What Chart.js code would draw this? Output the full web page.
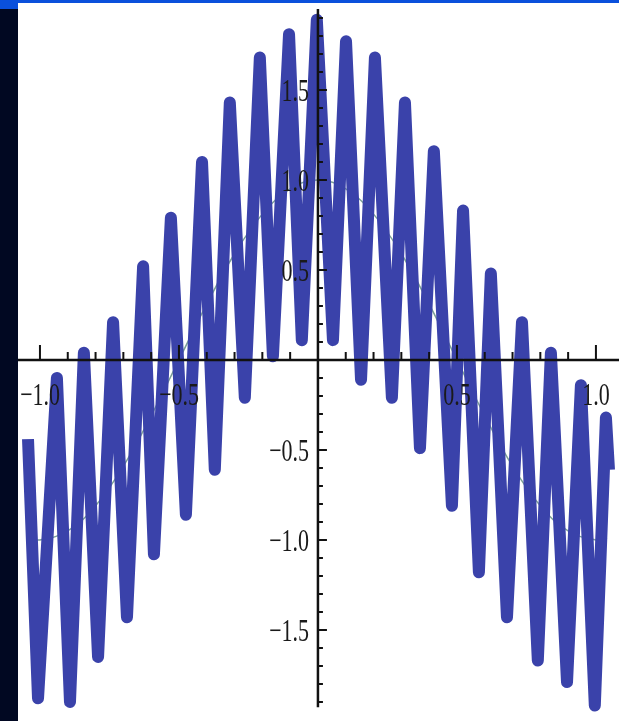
<!DOCTYPE html>
<html>
<head>
<meta charset="utf-8">
<script src="https://cdn.jsdelivr.net/npm/chart.js@4.4.1/dist/chart.umd.min.js"></script>
<style>
    html, body { margin: 0; padding: 0; background: #fff; }
    body { width: 619px; height: 721px; position: relative; overflow: hidden; }
    #side { position: absolute; left: 0; top: 0; width: 18px; height: 721px; background: #010822; }
    #corner { position: absolute; left: 0; top: 0; width: 18px; height: 9px; background: #0a50dc; }
    #topbar { position: absolute; left: 0; top: 0; width: 619px; height: 3px; background: #0a50dc; }
    #wrap { position: absolute; left: 18px; top: 3px; width: 601px; height: 718px; }
</style>
</head>
<body>
<div id="side"></div>
<div id="topbar"></div>
<div id="corner"></div>
<div id="wrap"><canvas id="plot"></canvas></div>
<script>
// Пики и впадины толстой синей кривой
const waveX = [-1.043, -1.007, -0.939, -0.892, -0.842, -0.791, -0.737, -0.687, -0.629, -0.590,
    -0.529, -0.475, -0.417, -0.371, -0.317, -0.263, -0.209, -0.162, -0.104, -0.058,
    -0.004, 0.054, 0.101, 0.155, 0.205, 0.266, 0.313, 0.367, 0.417, 0.482,
    0.522, 0.579, 0.622, 0.680, 0.734, 0.791, 0.838, 0.896, 0.946, 0.996, 1.036, 1.047];
const waveY = [-0.44, -1.88, -0.10, -1.90, 0.04, -1.65, 0.21, -1.43, 0.52, -1.08,
    0.79, -0.86, 1.10, -0.61, 1.43, -0.21, 1.68, 0.02, 1.81, 0.11,
    1.89, 0.11, 1.77, -0.11, 1.68, -0.21, 1.43, -0.49, 1.16, -0.81,
    0.83, -1.18, 0.48, -1.43, 0.21, -1.67, 0.04, -1.79, -0.14, -1.92, -0.32, -0.61];

// Тонкая гладкая кривая
const baseX = [-1.04, -1.0, -0.9, -0.8, -0.7, -0.6, -0.5, -0.4, -0.3, -0.2, -0.1, 0,
    0.1, 0.2, 0.3, 0.4, 0.5, 0.6, 0.7, 0.8, 0.9, 1.0, 1.04];
const baseY = [-0.99, -1.0, -0.95, -0.81, -0.59, -0.31, 0.0, 0.31, 0.59, 0.81, 0.95, 1.0,
    0.95, 0.81, 0.59, 0.31, 0.0, -0.31, -0.59, -0.81, -0.95, -1.0, -0.99];

// Подписи осей
const xTickLabels = ['\u22121.0', '\u22120.5', '0.5', '1.0'];
const xTickValues = [-1.0, -0.5, 0.5, 1.0];
const yTickLabels = ['1.5', '1.0', '0.5', '\u22120.5', '\u22121.0', '\u22121.5'];
const yTickValues = [1.5, 1.0, 0.5, -0.5, -1.0, -1.5];

const axesPlugin = {
    id: 'mathAxes',
    afterDatasetsDraw(chart) {
        const ctx = chart.ctx;
        const xs = chart.scales.x, ys = chart.scales.y;
        const x0 = xs.getPixelForValue(0), y0 = ys.getPixelForValue(0);
        ctx.save();
        ctx.strokeStyle = '#111';
        ctx.lineWidth = 2.5;
        ctx.beginPath();
        ctx.moveTo(xs.left, y0); ctx.lineTo(xs.right, y0);
        ctx.moveTo(x0, ys.getPixelForValue(1.95)); ctx.lineTo(x0, ys.getPixelForValue(-1.93));
        ctx.stroke();

        ctx.lineWidth = 2;
        ctx.beginPath();
        for (let i = -10; i <= 10; i++) {
            if (i === 0) continue;
            const px = xs.getPixelForValue(i / 10);
            const len = i % 5 === 0 ? 15 : 8;
            ctx.moveTo(px, y0); ctx.lineTo(px, y0 - len);
        }
        for (let i = -19; i <= 19; i++) {
            if (i === 0) continue;
            const py = ys.getPixelForValue(i / 10);
            const len = i % 5 === 0 ? 9 : 5;
            ctx.moveTo(x0, py); ctx.lineTo(x0 + len, py);
        }
        ctx.stroke();

        ctx.fillStyle = '#1a1a1a';
        ctx.font = '22px "Liberation Serif"';
        ctx.textBaseline = 'middle';
        ctx.textAlign = 'center';
        xTickValues.forEach((v, i) => {
            ctx.save();
            ctx.translate(xs.getPixelForValue(v), y0 + 37);
            ctx.scale(1, 1.45);
            ctx.fillText(xTickLabels[i], 0, 0);
            ctx.restore();
        });
        ctx.textAlign = 'right';
        yTickValues.forEach((v, i) => {
            ctx.save();
            ctx.translate(x0 - 9, ys.getPixelForValue(v) + 3);
            ctx.scale(1, 1.45);
            ctx.fillText(yTickLabels[i], 0, 0);
            ctx.restore();
        });
        ctx.restore();
    }
};

new Chart(document.getElementById('plot').getContext('2d'), {
    type: 'scatter',
    data: {
        datasets: [{
            data: waveX.map((x, i) => ({ x: x, y: waveY[i] })),
            showLine: true,
            borderColor: 'rgb(58, 66, 170)',
            borderWidth: 12,
            borderJoinStyle: 'round',
            pointRadius: 0,
            tension: 0
        }, {
            data: baseX.map((x, i) => ({ x: x, y: baseY[i] })),
            showLine: true,
            borderColor: 'rgba(110, 150, 140, 0.9)',
            borderWidth: 1.5,
            pointRadius: 0,
            tension: 0.4
        }]
    },
    options: {
        responsive: true,
        maintainAspectRatio: false,
        animation: false,
        layout: { padding: 0, autoPadding: false },
        scales: {
            x: { type: 'linear', min: -1.079, max: 1.083, display: false },
            y: { type: 'linear', min: -2.006, max: 1.983, display: false }
        },
        plugins: { legend: { display: false }, tooltip: { enabled: false } }
    },
    plugins: [axesPlugin]
});
</script>
</body>
</html>
